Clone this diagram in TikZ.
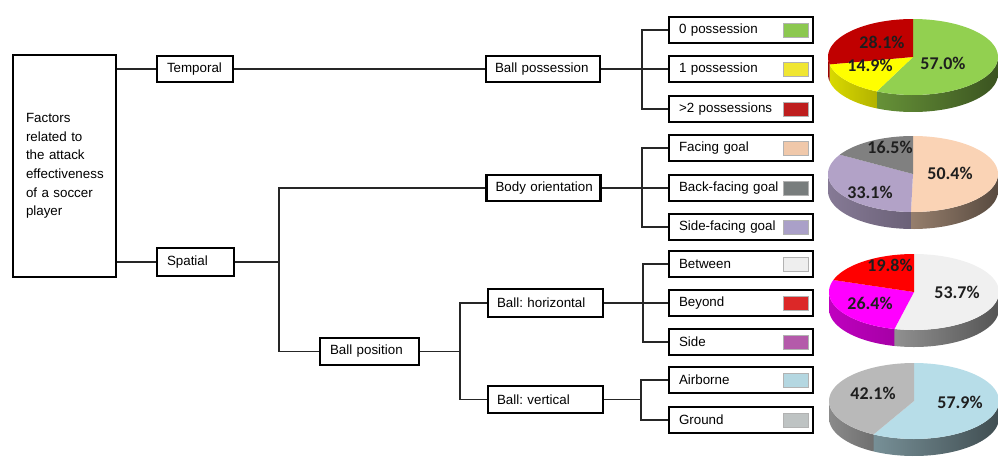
\documentclass[tikz,border=0pt]{standalone}
\usepackage{fontspec}
\setmainfont{Liberation Sans}
\newfontfamily\pief{Carlito}
\frenchspacing
\hbadness=10000
\hfuzz=20pt
\definecolor{pgreen}{RGB}{146,208,80}
\definecolor{pyellow}{RGB}{255,255,0}
\definecolor{pdred}{RGB}{192,0,0}
\definecolor{ppeach}{RGB}{250,211,181}
\definecolor{pgrey}{RGB}{128,128,128}
\definecolor{ppurple}{RGB}{178,162,199}
\definecolor{plgrey}{RGB}{240,240,240}
\definecolor{pmag}{RGB}{255,0,255}
\definecolor{pred}{RGB}{255,0,0}
\definecolor{pblue}{RGB}{183,221,232}
\definecolor{pgrey2}{RGB}{185,185,185}
\definecolor{sgreen}{RGB}{140,200,80}
\definecolor{syellow}{RGB}{240,230,50}
\definecolor{sred}{RGB}{190,30,30}
\definecolor{speach}{RGB}{240,200,170}
\definecolor{sdgrey}{RGB}{120,125,125}
\definecolor{slav}{RGB}{170,160,200}
\definecolor{sbetween}{RGB}{238,238,238}
\definecolor{sbeyond}{RGB}{220,40,40}
\definecolor{sside}{RGB}{180,90,170}
\definecolor{sair}{RGB}{180,215,225}
\definecolor{sground}{RGB}{190,195,195}
\definecolor{ltxt}{RGB}{30,30,30}
\newcommand{\mypietop}[5]{%
  \fill[#5] (#1,#2) -- plot[domain=#3:#4,samples=60] ({#1+85*cos(\x)},{#2-38*sin(\x)}) -- cycle;}
\newcommand{\mypieside}[6]{%
  \shade[left color=#5, right color=#6] plot[domain=#3:#4,samples=40] ({#1+85*cos(\x)},{#2-38*sin(\x)}) -- plot[domain=#4:#3,samples=40] ({#1+85*cos(\x)},{#2+17-38*sin(\x)}) -- cycle;}
\begin{document}
\begin{tikzpicture}[x=0.02cm,y=-0.02cm,
  box/.style={draw=black, line width=1.3pt, fill=white, font=\fontsize{7.6}{9}\selectfont\frenchspacing, inner xsep=0.2cm, inner ysep=0pt, align=left, minimum height=0.52cm},
  leaf/.style={box, text width=2.48cm},
  mid/.style={box, inner xsep=0.18cm, text width=1.92cm},
  swatch/.style={draw=gray!60, line width=0.4pt, minimum width=0.5cm, minimum height=0.28cm, inner sep=0pt},
  conn/.style={draw=black!85, line width=0.75pt},
  plabel/.style={font=\pief\bfseries\fontsize{10.2}{12}\selectfont, text=ltxt, inner sep=0pt}]
\useasboundingbox (0,0) rectangle (998,464);

% main box
\node[box, minimum width=2.06cm, minimum height=4.44cm, text width=1.54cm, inner xsep=0.26cm,
  font=\fontsize{7.6}{10.6}\selectfont] (main) at (64.5,166)
  {Factors\\related to\\the attack\\effectiveness\\of a soccer\\player};

\node[box, text width=1.12cm] (temp) at (195,69) {Temporal};
\node[box, text width=1.14cm, minimum height=0.56cm] (spat) at (195.5,262) {Spatial};

\node[mid] (bposs) at (543,69) {\mbox{Ball possession}};
\node[mid] (bori) at (543.5,188) {\mbox{Body orientation}};
\node[box, text width=1.58cm, minimum height=0.54cm] (bpos) at (369.5,351.5) {\mbox{Ball position}};
\node[mid, text width=1.94cm, minimum height=0.56cm] (bhor) at (545.5,303) {\mbox{Ball: horizontal}};
\node[mid, text width=1.94cm, minimum height=0.54cm] (bver) at (545.5,399.5) {\mbox{Ball: vertical}};

% leaves
\node[leaf] (l1) at (741,30) {0 possession};
\node[leaf] (l2) at (741,69) {1 possession};
\node[leaf] (l3) at (741,109) {>2 possessions};
\node[leaf] (l4) at (741,148) {Facing goal};
\node[leaf] (l5) at (741,188) {Back-facing goal};
\node[leaf] (l6) at (741,227) {Side-facing goal};
\node[leaf] (l7) at (741,264) {Between};
\node[leaf] (l8) at (741,303) {Beyond};
\node[leaf] (l9) at (741,342) {Side};
\node[leaf] (l10) at (741,380) {Airborne};
\node[leaf] (l11) at (741,420) {Ground};

% swatches
\node[swatch, fill=sgreen] (s1) at ([xshift=-0.37cm]l1.east) {};
\node[swatch, fill=syellow] (s2) at ([xshift=-0.37cm]l2.east) {};
\node[swatch, fill=sred] (s3) at ([xshift=-0.37cm]l3.east) {};
\node[swatch, fill=speach] (s4) at ([xshift=-0.37cm]l4.east) {};
\node[swatch, fill=sdgrey] (s5) at ([xshift=-0.37cm]l5.east) {};
\node[swatch, fill=slav] (s6) at ([xshift=-0.37cm]l6.east) {};
\node[swatch, fill=sbetween] (s7) at ([xshift=-0.37cm]l7.east) {};
\node[swatch, fill=sbeyond] (s8) at ([xshift=-0.37cm]l8.east) {};
\node[swatch, fill=sside] (s9) at ([xshift=-0.37cm]l9.east) {};
\node[swatch, fill=sair] (s10) at ([xshift=-0.37cm]l10.east) {};
\node[swatch, fill=sground] (s11) at ([xshift=-0.37cm]l11.east) {};

% fork coordinates
\coordinate (f1) at (642,69);
\coordinate (f2) at (279,262);
\coordinate (f3) at (460,351.5);
\coordinate (f4) at (642,188);
\coordinate (f5) at (643,303);
\coordinate (f6) at (641,399.5);

% connectors
\draw[conn] (main.east |- temp) -- (temp.west);
\draw[conn] (temp.east) -- (bposs.west);
\draw[conn] (main.east |- spat) -- (spat.west);
\draw[conn] (spat.east) -- (f2);
\draw[conn] (bori.west) -| (f2) |- (bpos.west);
\draw[conn] (bpos.east) -- (f3);
\draw[conn] (bhor.west) -| (f3) |- (bver.west);
\draw[conn] (bposs.east) -- (l2.west);
\draw[conn] (l1.west) -| (f1) |- (l3.west);
\draw[conn] (bori.east) -- (l5.west);
\draw[conn] (l4.west) -| (f4) |- (l6.west);
\draw[conn] (bhor.east) -- (l8.west);
\draw[conn] (l7.west) -| (f5) |- (l9.west);
\draw[conn] (bver.east) -- (f6);
\draw[conn] (l10.west) -| (f6) |- (l11.west);

% pie 1
\mypieside{913}{57}{-115.2}{0}{pgreen!70!black}{pgreen!40!black}
\mypieside{913}{57}{-168.8}{-115.2}{pyellow!85!black}{pyellow!70!black}
\mypieside{913}{57}{-180}{-168.8}{pdred!80!black}{pdred!70!black}
\mypietop{913}{57}{-115.2}{90}{pgreen}
\mypietop{913}{57}{-168.8}{-115.2}{pyellow}
\mypietop{913}{57}{-270}{-168.8}{pdred}
\node[plabel] (t11) at (882,42) {28.1\%};
\node[plabel] (t12) at (870,65) {14.9\%};
\node[plabel] (t13) at (943,63) {57.0\%};

% pie 2
\mypieside{913}{174}{-91.4}{0}{ppeach!60!black}{ppeach!35!black}
\mypieside{913}{174}{-180}{-91.4}{ppurple!75!black}{ppurple!60!black}
\mypietop{913}{174}{-91.4}{90}{ppeach}
\mypietop{913}{174}{-210.6}{-91.4}{ppurple}
\mypietop{913}{174}{-270}{-210.6}{pgrey}
\node[plabel] (t21) at (890,147) {16.5\%};
\node[plabel] (t22) at (950,173) {50.4\%};
\node[plabel] (t23) at (870,192) {33.1\%};

% pie 3
\mypieside{914}{292}{-103.3}{0}{plgrey!60!black}{plgrey!35!black}
\mypieside{914}{292}{-180}{-103.3}{pmag!75!black}{pmag!65!black}
\mypietop{914}{292}{-103.3}{90}{plgrey}
\mypietop{914}{292}{-198.4}{-103.3}{pmag}
\mypietop{914}{292}{-270}{-198.4}{pred}
\node[plabel] (t31) at (890,265) {19.8\%};
\node[plabel] (t32) at (957,292) {53.7\%};
\node[plabel] (t33) at (870,303) {26.4\%};

% pie 4
\mypieside{914}{401}{-118.4}{0}{pblue!65!black}{pblue!35!black}
\mypieside{914}{401}{-180}{-118.4}{pgrey2!75!black}{pgrey2!60!black}
\mypietop{914}{401}{-118.4}{90}{pblue}
\mypietop{914}{401}{-270}{-118.4}{pgrey2}
\node[plabel] (t41) at (873,393) {42.1\%};
\node[plabel] (t42) at (960,402) {57.9\%};
\end{tikzpicture}
\end{document}
